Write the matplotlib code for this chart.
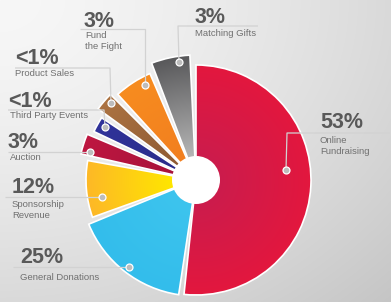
import numpy as np
import matplotlib
matplotlib.use("Agg")
import matplotlib.pyplot as plt
from matplotlib.patches import Wedge, Circle
from matplotlib.colors import to_rgb

# 🔹 Data
categories = ["Online\nFundraising", "General Donations", "Sponsorship\nRevenue", "Auction",
              "Third Party Events", "Product Sales", "Fund\nthe Fight", "Matching Gifts"]
pct_labels = ["53%", "25%", "12%", "3%", "<1%", "<1%", "3%", "3%"]
spans = [186, 59, 30, 10, 8, 9, 19, 18]          # angular sweep of each slice, degrees
radii = [115, 116, 110, 118, 113, 121, 116, 125]  # outer radius of each slice, px

inner_colors = ["#CC1C4C", "#3DC4EE", "#FFE600", "#A8123A", "#2A2C8A", "#8E5A32", "#F27F1F", "#B5B5B5"]
outer_colors = ["#E3173E", "#33BDEB", "#FDB827", "#BE1741", "#30339A", "#AC7342", "#F78C1F", "#58585A"]

# 🔹 Layout
W, H = 391, 302
cx, cy = 196, 180
hole = 24
gap = 2.6

fig = plt.figure(figsize=(W / 100, H / 100), dpi=100)
ax = fig.add_axes([0, 0, 1, 1])
ax.set_xlim(0, W)
ax.set_ylim(H, 0)
ax.axis("off")

# background gradient
yy, xx = np.mgrid[0:H, 0:W]
t = np.sqrt((xx / W) ** 2 + (yy / H) ** 2) / np.sqrt(2)
bg = (247 - 50 * t ** 1.5) / 255
ax.imshow(np.dstack([bg, bg, bg]), extent=[0, W, H, 0], zorder=0, aspect="auto")

# radial distance grid for gradient fills
gy, gx = np.mgrid[0:H, 0:W] + 0.5
dist = np.sqrt((gx - cx) ** 2 + (gy - cy) ** 2)

# 🔹 Slices (clockwise from 12 o'clock)
start = 90.0
for i, (span, r) in enumerate(zip(spans, radii)):
    t1 = start - span          # visual, counter-clockwise degrees
    t2 = start
    # y axis inverted -> flip angle sign
    w = Wedge((cx, cy), r, -t2, -t1, facecolor="none", edgecolor="none")
    ax.add_patch(w)
    f = np.clip((dist - hole) / (r - hole), 0, 1)[..., None]
    c0, c1 = np.array(to_rgb(inner_colors[i])), np.array(to_rgb(outer_colors[i]))
    img = c0 * (1 - f) + c1 * f
    im = ax.imshow(img, extent=[0, W, H, 0], zorder=2, aspect="auto")
    im.set_clip_path(w)
    ax.add_patch(Wedge((cx, cy), r, -t2, -t1, facecolor="none",
                       edgecolor="white", linewidth=1.2, zorder=3))
    start = t1 - gap

ax.add_patch(Circle((cx, cy), hole, facecolor="white", edgecolor="none", zorder=4))

# 🔹 Leader lines, markers and labels
leaders = [
    [(390, 133), (287, 133), (286, 170)],
    [(13, 267), (129, 267)],
    [(5, 197), (102, 197)],
    [(8, 152), (90, 152)],
    [(8, 110), (104, 110), (105, 127)],
    [(15, 68), (110, 68), (111, 103)],
    [(80, 29), (145, 29), (145, 85)],
    [(258, 26), (178, 26), (179, 62)],
]
pct_pos = [(320, 128), (20, 263), (12, 193), (8, 148), (8, 107), (15, 64.5), (84, 27), (195, 23)]
lab_pos = [(320, 136), (20, 273), (12, 200), (10, 153), (10, 111), (15, 69.5), (85, 31), (195, 29)]

for i in range(len(categories)):
    pts = np.array(leaders[i])
    ax.plot(pts[:, 0], pts[:, 1], color="#D2D2D2", lw=0.9, zorder=5, solid_capstyle="butt")
    ax.plot(pts[-1, 0], pts[-1, 1], "o", ms=5, mfc="#BDBDBD", mec="white", mew=0.9, zorder=6)
    ax.text(pct_pos[i][0], pct_pos[i][1], pct_labels[i], family="Liberation Sans",
            weight="bold", fontsize=15.5, color="#595959", va="baseline", ha="left", zorder=7)
    ax.text(lab_pos[i][0], lab_pos[i][1], categories[i], family="Liberation Sans",
            fontsize=6.8, color="#707070", va="top", ha="left", linespacing=1.25, zorder=7)

fig.savefig("out.png", dpi=100)
